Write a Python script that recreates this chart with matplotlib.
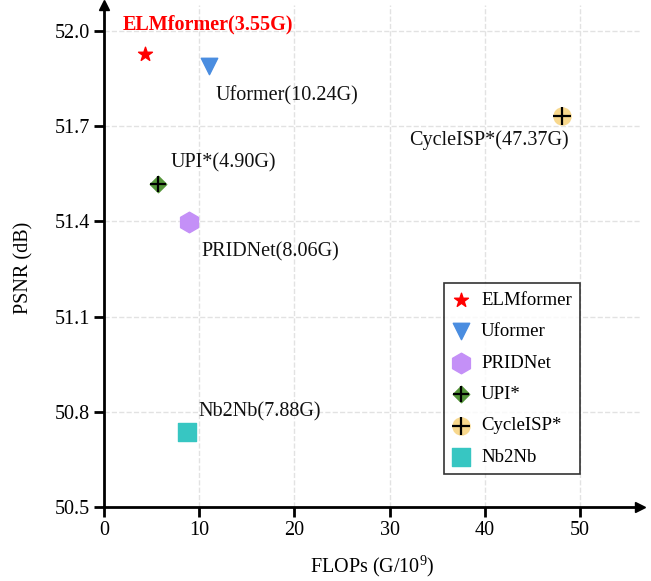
import matplotlib
matplotlib.use("Agg")
import matplotlib.pyplot as plt
from matplotlib.legend_handler import HandlerTuple

plt.rcParams['font.family'] = ['Liberation Serif', 'DejaVu Serif']
plt.rcParams['mathtext.fontset'] = 'custom'
plt.rcParams['mathtext.rm'] = 'Liberation Serif'

methods = ["ELMformer", "Uformer", "PRIDNet", "UPI*", "CycleISP*", "Nb2Nb"]
flops = [4.3, 11.0, 8.9, 5.65, 48.1, 8.7]
psnr = [51.927, 51.89, 51.397, 51.517, 51.73, 50.738]
labels = ["ELMformer(3.55G)", "Uformer(10.24G)", "PRIDNet(8.06G)", "UPI*(4.90G)",
          "CycleISP*(47.37G)", "Nb2Nb(7.88G)"]
label_pos = [(10.9, 52.02), (11.7, 51.795), (10.2, 51.305), (7.0, 51.585),
             (32.0, 51.655), (9.9, 50.80)]
x_ticks = [0, 10, 20, 30, 40, 50]
y_ticks = [50.5, 50.8, 51.1, 51.4, 51.7, 52.0]

fig = plt.figure(figsize=(6.51, 5.81), dpi=100)
ax = fig.add_axes([0.16, 0.127, 0.823, 0.864])
ax.set_xlim(0, 56.3)
ax.set_ylim(50.5, 52.08)

h0 = ax.scatter(flops[0], psnr[0], marker='*', s=110, color='#ff0000', zorder=3)
h1 = ax.scatter(flops[1], psnr[1], marker='v', s=140, color='#4a8de0', zorder=3)
h2 = ax.scatter(flops[2], psnr[2], marker='h', s=220, color='#c490f7', zorder=3)
h3a = ax.scatter(flops[3], psnr[3], marker='D', s=70, color='#55963a', zorder=3)
h3b = ax.scatter(flops[3], psnr[3], marker='+', s=130, color='black', linewidths=1.6, zorder=4)
h4a = ax.scatter(flops[4], psnr[4], marker='o', s=150, color='#f8d88d', zorder=3)
h4b = ax.scatter(flops[4], psnr[4], marker='+', s=150, color='black', linewidths=1.6, zorder=4)
h5 = ax.scatter(flops[5], psnr[5], marker='s', s=150, color='#37c6c2', zorder=3)
handles = [h0, h1, h2, (h3a, h3b), (h4a, h4b), h5]

for i, (lab, (lx, ly)) in enumerate(zip(labels, label_pos)):
    if i == 0:
        ax.text(lx, ly, lab, color='#ff0000', fontsize=14.5, fontweight='bold',
                ha='center', va='center')
    else:
        ax.text(lx, ly, lab, color='#111111', fontsize=14.5, ha='left', va='center')

ax.set_xticks(x_ticks)
ax.set_yticks(y_ticks)
ax.set_yticklabels([f"{v:.1f}" for v in y_ticks])
ax.tick_params(labelsize=14.5, width=2, length=7, pad=3, direction='out', colors='black')
ax.grid(True, linestyle='--', color='#e2e2e2', linewidth=1)
ax.set_axisbelow(True)
for s in ['top', 'right']:
    ax.spines[s].set_visible(False)
for s in ['left', 'bottom']:
    ax.spines[s].set_linewidth(2)
ax.plot(1, 0, '>k', transform=ax.transAxes, clip_on=False, markersize=7)
ax.plot(0, 1, '^k', transform=ax.transAxes, clip_on=False, markersize=7)

ax.set_xlabel("FLOPs (G/10$^{9}$)", fontsize=14.5, labelpad=9)
ax.set_ylabel("PSNR (dB)", fontsize=14.5)
ax.yaxis.set_label_coords(-0.131, 0.476)

leg = ax.legend(handles, methods, loc='lower right', bbox_to_anchor=(0.906, 0.047),
                fontsize=13.5, frameon=True, fancybox=False, edgecolor='black',
                labelspacing=0.76, handletextpad=0.6, borderpad=0.45, handlelength=0.9,
                handler_map={tuple: HandlerTuple(ndivide=1)})
leg.get_frame().set_linewidth(1.2)

fig.savefig("out.png", dpi=100)
